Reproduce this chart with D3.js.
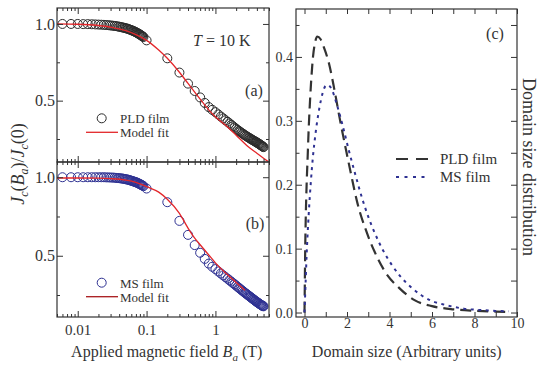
<!DOCTYPE html>
<html>
<head>
<meta charset="utf-8">
<script src="https://cdn.jsdelivr.net/npm/d3@7"></script>
<style>
  body { margin: 0; background: #fff; }
  svg { display: block; }
</style>
</head>
<body>
<div id="chart"></div>
<script>
// ---- data ----
// applied field (T), same steps for both films
const fields = [
  0.006, 0.008, 0.010, 0.012, 0.014, 0.016, 0.018, 0.020, 0.022, 0.024,
  0.026, 0.028, 0.030, 0.032, 0.034, 0.036, 0.038, 0.040, 0.042, 0.044,
  0.046, 0.048, 0.050, 0.052, 0.054, 0.056, 0.058, 0.060, 0.062, 0.064,
  0.066, 0.068, 0.070, 0.072, 0.074, 0.076, 0.078, 0.080, 0.082, 0.084,
  0.086, 0.088, 0.090,
  0.1, 0.2, 0.3, 0.4, 0.5, 0.6, 0.7, 0.8, 0.9,
  1.0, 1.1, 1.2, 1.3, 1.4, 1.5, 1.6, 1.7, 1.8, 1.9,
  2.0, 2.1, 2.2, 2.3, 2.4, 2.5, 2.6, 2.7, 2.8, 2.9,
  3.0, 3.1, 3.2, 3.3, 3.4, 3.5, 3.6, 3.7, 3.8, 3.9,
  4.0, 4.1, 4.2, 4.3, 4.4, 4.5, 4.6, 4.7, 4.8, 4.9, 5.0
];
const jcPLD = [
  1.000, 1.000, 1.000, 0.999, 0.999, 0.998, 0.997, 0.996, 0.995, 0.994,
  0.993, 0.992, 0.990, 0.989, 0.987, 0.986, 0.984, 0.982, 0.980, 0.978,
  0.976, 0.974, 0.972, 0.970, 0.967, 0.965, 0.962, 0.960, 0.957, 0.954,
  0.952, 0.949, 0.946, 0.943, 0.940, 0.937, 0.934, 0.931, 0.928, 0.925,
  0.921, 0.918, 0.915,
  0.893, 0.776, 0.683, 0.611, 0.563, 0.521, 0.485, 0.458, 0.440,
  0.425, 0.410, 0.396, 0.384, 0.372, 0.362, 0.352, 0.342, 0.333, 0.324,
  0.316, 0.309, 0.302, 0.296, 0.290, 0.284, 0.279, 0.274, 0.269, 0.265,
  0.261, 0.257, 0.253, 0.249, 0.246, 0.242, 0.239, 0.236, 0.233, 0.230,
  0.227, 0.224, 0.221, 0.218, 0.215, 0.212, 0.209, 0.206, 0.203, 0.200, 0.197
];
const jcMS = [
  1.000, 1.000, 1.000, 1.000, 1.000, 1.000, 1.000, 1.000, 1.000, 1.000,
  0.999, 0.999, 0.998, 0.998, 0.997, 0.996, 0.995, 0.994, 0.993, 0.992,
  0.990, 0.989, 0.987, 0.986, 0.984, 0.982, 0.980, 0.978, 0.976, 0.974,
  0.972, 0.970, 0.968, 0.966, 0.964, 0.961, 0.959, 0.956, 0.954, 0.951,
  0.949, 0.946, 0.943,
  0.928, 0.841, 0.722, 0.633, 0.568, 0.519, 0.480, 0.450, 0.430,
  0.415, 0.400, 0.387, 0.375, 0.364, 0.354, 0.344, 0.335, 0.326, 0.318,
  0.310, 0.302, 0.295, 0.288, 0.281, 0.275, 0.269, 0.263, 0.258, 0.253,
  0.248, 0.243, 0.238, 0.234, 0.229, 0.225, 0.221, 0.217, 0.213, 0.209,
  0.206, 0.202, 0.199, 0.196, 0.193, 0.190, 0.187, 0.184, 0.182, 0.180, 0.178
];

// model fits
const fitFieldA = [0.005, 0.01, 0.02, 0.03, 0.05, 0.07, 0.1, 0.15, 0.2, 0.3, 0.4, 0.5, 0.6, 0.8, 1.0, 1.5, 2.0, 3.0, 4.0, 5.0, 6.0];
const fitJcA = [1.0, 0.998, 0.99, 0.98, 0.956, 0.93, 0.893, 0.83, 0.776, 0.685, 0.612, 0.556, 0.51, 0.44, 0.395, 0.328, 0.275, 0.2, 0.157, 0.125, 0.1];
const fitFieldB = [0.005, 0.01, 0.02, 0.03, 0.05, 0.07, 0.1, 0.15, 0.2, 0.3, 0.4, 0.5, 0.6, 0.8, 1.0, 1.5, 2.0, 2.7];
const fitJcB = [0.995, 0.995, 0.994, 0.991, 0.982, 0.968, 0.94, 0.905, 0.86, 0.77, 0.676, 0.612, 0.57, 0.505, 0.455, 0.379, 0.33, 0.28];

// domain size distributions
const sizePLD = [0, 0.015, 0.03, 0.06, 0.1, 0.15, 0.2, 0.25, 0.3, 0.4, 0.5, 0.6, 0.75, 0.9, 1.15, 1.4, 1.65, 1.95, 2.2, 2.5, 2.9, 3.3, 3.75, 4.5, 5.2, 6.0, 7.0, 8.0, 9.0, 9.6];
const distPLD = [0, 0.045, 0.09, 0.15, 0.2, 0.245, 0.29, 0.325, 0.355, 0.4, 0.423, 0.432, 0.428, 0.416, 0.39, 0.35, 0.305, 0.255, 0.215, 0.17, 0.128, 0.095, 0.066, 0.037, 0.019, 0.01, 0.005, 0.0028, 0.0015, 0.001];
const sizeMS = [0, 0.05, 0.1, 0.15, 0.2, 0.3, 0.4, 0.5, 0.6, 0.7, 0.85, 1.0, 1.1, 1.3, 1.5, 1.8, 2.1, 2.4, 2.7, 3.0, 3.3, 3.7, 4.1, 4.5, 5.0, 5.5, 6.0, 6.5, 7.0, 7.5, 8.0, 8.5, 9.0, 9.6];
const distMS = [0, 0.045, 0.09, 0.125, 0.155, 0.205, 0.245, 0.275, 0.3, 0.32, 0.343, 0.355, 0.356, 0.348, 0.328, 0.292, 0.252, 0.215, 0.18, 0.15, 0.125, 0.097, 0.075, 0.057, 0.04, 0.027, 0.018, 0.013, 0.009, 0.006, 0.0045, 0.0035, 0.0025, 0.002];

// ticks
const fieldTicks = [0.01, 0.1, 1];
const jcTicks = [0.5, 1.0];
const jcMinorTicks = [0.25, 0.75];
const sizeTicks = [0, 2, 4, 6, 8, 10];
const sizeMinorTicks = [1, 3, 5, 7, 9];
const distTicks = [0, 0.1, 0.2, 0.3, 0.4];
const distMinorTicks = [0.05, 0.15, 0.25, 0.35, 0.45];

const SERIF = '"Liberation Serif", "Times New Roman", serif';
const INK = '#333';
const RED = '#e3262a';
const BLUE = '#2e3192';

const svg = d3.select('#chart').append('svg')
    .attr('width', 538)
    .attr('height', 365);

// ---- scales ----
const x = d3.scaleLog().domain([0.005, 6]).range([57, 269]);
const yA = d3.scaleLinear().domain([0.1, 1.104]).range([162, 8]);
const yB = d3.scaleLinear().domain([0.11, 1.097]).range([317, 162]);
const xS = d3.scaleLinear().domain([-0.4, 10]).range([296, 517]);
const yD = d3.scaleLinear().domain([-0.007, 0.475]).range([317, 9]);

const fieldMinor = x.ticks().filter(v => !fieldTicks.some(t => Math.abs(t - v) < 1e-9));

// inward ticks, labels only when a format is given
function addAxis(gen, scale, values, size, fmt, tx, ty, fontSize, pad) {
    const axis = gen(scale)
        .tickValues(values)
        .tickSizeInner(-size)
        .tickSizeOuter(0)
        .tickPadding(pad || 0)
        .tickFormat(fmt || (() => ''));
    const g = svg.append('g')
        .attr('transform', `translate(${tx},${ty})`)
        .call(axis);
    g.select('.domain').remove();
    g.selectAll('line').attr('stroke', INK).attr('stroke-width', 1);
    g.selectAll('text')
        .attr('font-family', SERIF)
        .attr('font-size', fontSize)
        .attr('fill', INK);
    return g;
}

// text with italic / subscript parts
function richText(sel, parts) {
    parts.forEach(p => {
        const t = sel.append('tspan').text(p.t);
        if (p.i) t.attr('font-style', 'italic');
        if (p.sub) t.attr('font-size', p.sub).attr('dy', p.dy);
        else if (p.dy) t.attr('dy', p.dy);
    });
    return sel;
}

// ---- panels (a) and (b) ----
function fieldPanel(id, y, top, bottom, jc, color, fitX, fitY) {
    svg.append('clipPath').attr('id', id)
        .append('rect')
        .attr('x', 57).attr('y', top)
        .attr('width', 212).attr('height', bottom - top);

    const g = svg.append('g').attr('clip-path', `url(#${id})`);

    g.selectAll('.pt')
        .data(d3.zip(fields, jc))
        .enter()
        .append('circle')
        .attr('class', 'pt')
        .attr('cx', d => x(d[0]))
        .attr('cy', d => y(d[1]))
        .attr('r', 4.5)
        .attr('fill', 'none')
        .attr('stroke', color)
        .attr('stroke-width', 1);

    const line = d3.line()
        .x(d => x(d[0]))
        .y(d => y(d[1]))
        .curve(d3.curveMonotoneX);

    g.append('path')
        .datum(d3.zip(fitX, fitY))
        .attr('fill', 'none')
        .attr('stroke', RED)
        .attr('stroke-width', 1.3)
        .attr('d', line);

    // axes
    addAxis(d3.axisLeft, y, jcTicks, 6, d3.format('.1f'), 57, 0, 16, 2);
    addAxis(d3.axisLeft, y, jcMinorTicks, 3, null, 57, 0, 16);
    addAxis(d3.axisRight, y, jcTicks, 6, null, 269, 0, 16);
    addAxis(d3.axisRight, y, jcMinorTicks, 3, null, 269, 0, 16);
    addAxis(d3.axisTop, x, fieldTicks, 6, null, 0, top, 15);
    addAxis(d3.axisTop, x, fieldMinor, 3, null, 0, top, 15);
    addAxis(d3.axisBottom, x, fieldMinor, 3, null, 0, bottom, 15);

    svg.append('rect')
        .attr('x', 57).attr('y', top)
        .attr('width', 212).attr('height', bottom - top)
        .attr('fill', 'none')
        .attr('stroke', INK)
        .attr('stroke-width', 1.2);
}

fieldPanel('clipA', yA, 8, 162, jcPLD, '#2b2b2b', fitFieldA, fitJcA);
fieldPanel('clipB', yB, 162, 317, jcMS, BLUE, fitFieldB, fitJcB);

addAxis(d3.axisBottom, x, fieldTicks, 6, null, 0, 162, 15);
addAxis(d3.axisBottom, x, fieldTicks, 6, d => (d >= 1 ? d3.format('d')(d) : d3.format('.2~f')(d)), 0, 317, 15, 7);

// panel texts
function label(px, py, size, parts, anchor) {
    const t = svg.append('text')
        .attr('x', px).attr('y', py)
        .attr('font-family', SERIF)
        .attr('font-size', size)
        .attr('fill', INK)
        .attr('text-anchor', anchor || 'start');
    return richText(t, parts);
}

label(193, 46, 16, [{ t: 'T', i: true }, { t: ' = 10 K' }]);
label(254, 96, 16, [{ t: '(a)' }], 'middle');
label(255, 229, 16, [{ t: '(b)' }], 'middle');

// legends (a) and (b)
svg.append('circle').attr('cx', 101.7).attr('cy', 118.3).attr('r', 4.5)
    .attr('fill', 'none').attr('stroke', '#2b2b2b').attr('stroke-width', 1);
label(120, 123, 13, [{ t: 'PLD film' }]);
svg.append('line').attr('x1', 86).attr('x2', 118).attr('y1', 132.3).attr('y2', 132.3)
    .attr('stroke', RED).attr('stroke-width', 1.3);
label(120, 137, 13, [{ t: 'Model fit' }]);

svg.append('circle').attr('cx', 101.7).attr('cy', 282.7).attr('r', 4.5)
    .attr('fill', 'none').attr('stroke', BLUE).attr('stroke-width', 1);
label(120, 287.5, 13, [{ t: 'MS film' }]);
svg.append('line').attr('x1', 86).attr('x2', 118).attr('y1', 296.7).attr('y2', 296.7)
    .attr('stroke', '#a8191c').attr('stroke-width', 1.3);
label(120, 301.5, 13, [{ t: 'Model fit' }]);

// axis titles, left
label(166.7, 357, 16, [
    { t: 'Applied magnetic field ' },
    { t: 'B', i: true },
    { t: 'a', i: true, sub: 11, dy: 4 },
    { t: ' (T)', dy: -4 }
], 'middle');

const yTitle = svg.append('text')
    .attr('transform', 'translate(24,164) rotate(-90)')
    .attr('text-anchor', 'middle')
    .attr('font-family', SERIF)
    .attr('font-size', 18)
    .attr('fill', INK);
richText(yTitle, [
    { t: 'J', i: true },
    { t: 'c', i: true, sub: 12, dy: 4 },
    { t: '(', dy: -4 },
    { t: 'B', i: true },
    { t: 'a', i: true, sub: 12, dy: 4 },
    { t: ')/', dy: -4 },
    { t: 'J', i: true },
    { t: 'c', i: true, sub: 12, dy: 4 },
    { t: '(0)', dy: -4 }
]);

// ---- panel (c) ----
const distLine = d3.line()
    .x(d => xS(d[0]))
    .y(d => yD(d[1]))
    .curve(d3.curveMonotoneX);

svg.append('path')
    .datum(d3.zip(sizePLD, distPLD))
    .attr('fill', 'none')
    .attr('stroke', '#333')
    .attr('stroke-width', 2.2)
    .attr('stroke-dasharray', '11,6')
    .attr('d', distLine);

svg.append('path')
    .datum(d3.zip(sizeMS, distMS))
    .attr('fill', 'none')
    .attr('stroke', BLUE)
    .attr('stroke-width', 2)
    .attr('stroke-dasharray', '3,4.5')
    .attr('d', distLine);

addAxis(d3.axisBottom, xS, sizeTicks, 5, d3.format('d'), 0, 317, 14, 1);
addAxis(d3.axisBottom, xS, sizeMinorTicks, 5, null, 0, 317, 14);
addAxis(d3.axisTop, xS, sizeTicks, 5, null, 0, 9, 14);
addAxis(d3.axisTop, xS, sizeMinorTicks, 5, null, 0, 9, 14);
addAxis(d3.axisLeft, yD, distTicks, 6, d3.format('.1f'), 296, 0, 14, 3);
addAxis(d3.axisLeft, yD, distMinorTicks, 3.5, null, 296, 0, 14);
addAxis(d3.axisRight, yD, distTicks, 6, null, 517, 0, 14);
addAxis(d3.axisRight, yD, distMinorTicks, 6, null, 517, 0, 14);

svg.append('rect')
    .attr('x', 296).attr('y', 9)
    .attr('width', 221).attr('height', 308)
    .attr('fill', 'none')
    .attr('stroke', INK)
    .attr('stroke-width', 1.2);

label(495, 39, 16, [{ t: '(c)' }], 'middle');

// legend (c)
svg.append('line').attr('x1', 396).attr('x2', 429).attr('y1', 159).attr('y2', 159)
    .attr('stroke', '#333').attr('stroke-width', 2.2).attr('stroke-dasharray', '12,8');
label(440, 164, 15, [{ t: 'PLD film' }]);
svg.append('line').attr('x1', 396).attr('x2', 429).attr('y1', 177).attr('y2', 177)
    .attr('stroke', BLUE).attr('stroke-width', 2).attr('stroke-dasharray', '3,5.5');
label(440, 182, 15, [{ t: 'MS film' }]);

label(406.7, 357, 16, [{ t: 'Domain size (Arbitrary units)' }], 'middle');

svg.append('text')
    .attr('transform', 'translate(523,167) rotate(90)')
    .attr('text-anchor', 'middle')
    .attr('font-family', SERIF)
    .attr('font-size', 18)
    .attr('fill', INK)
    .text('Domain size distribution');
</script>
</body>
</html>
